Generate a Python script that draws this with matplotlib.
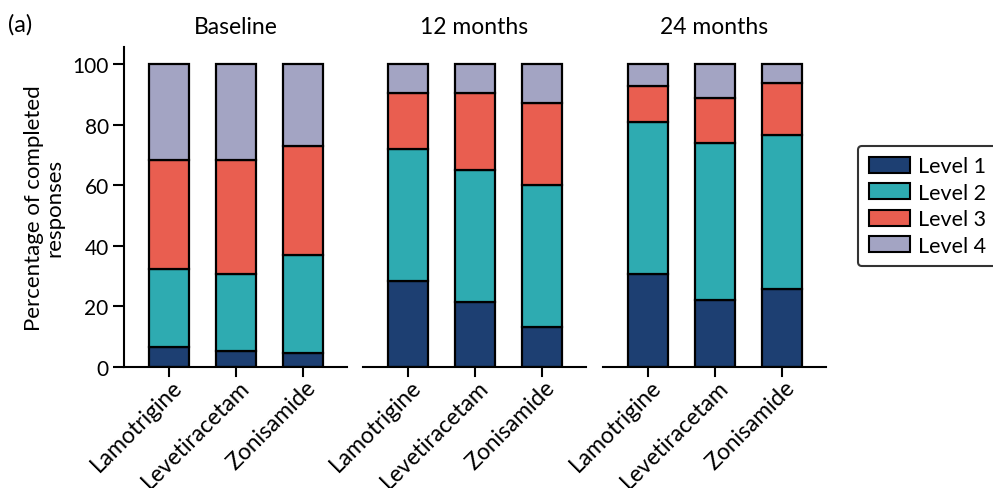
import matplotlib.pyplot as plt
import numpy as np
from matplotlib.patches import Patch

plt.rcParams['font.family'] = ['Lato', 'DejaVu Sans']

drugs = ["Lamotrigine", "Levetiracetam", "Zonisamide"]
timepoints = ["Baseline", "12 months", "24 months"]
levels = ["Level 1", "Level 2", "Level 3", "Level 4"]

# percentages per time point, one row per drug: level 1..4
baseline = [[6.6, 25.7, 36.0, 31.7],
            [5.3, 25.4, 37.6, 31.7],
            [4.6, 32.4, 35.9, 27.1]]
month12 = [[28.4, 43.5, 18.5, 9.6],
           [21.5, 43.5, 25.4, 9.6],
           [13.2, 46.8, 27.1, 12.9]]
month24 = [[30.7, 50.2, 11.8, 7.3],
           [22.1, 51.8, 14.9, 11.2],
           [25.7, 50.9, 17.1, 6.3]]

colors = ["#1d3f72", "#2eabb1", "#e95e50", "#a3a4c3"]

fig = plt.figure(figsize=(9.93, 4.89), dpi=100)
lefts = [124 / 993, 363 / 993, 603 / 993]
for i, (tp, data) in enumerate(zip(timepoints, [baseline, month12, month24])):
    ax = fig.add_axes([lefts[i], 1 - 368 / 489, 223 / 993, 320 / 489])
    data = np.array(data)
    x = np.arange(len(drugs))
    bottom = np.zeros(len(drugs))
    for j in range(len(levels)):
        ax.bar(x, data[:, j], 0.6, bottom=bottom, color=colors[j],
               edgecolor="black", linewidth=1.6, label=levels[j])
        bottom += data[:, j]
    ax.set_xlim(-0.67, 2.66)
    ax.set_ylim(0, 105.6)
    ax.set_xticks(x + 0.04)
    ax.set_xticklabels(drugs, rotation=45, ha="right", rotation_mode="anchor", fontsize=16.5)
    ax.tick_params(axis="x", length=0, pad=6.5)
    # draw the real ticks at bar centres
    for xi in x:
        ax.plot([xi, xi], [0, -0.028], transform=ax.get_xaxis_transform(),
                color="black", lw=1.5, clip_on=False)
    ax.tick_params(axis="y", length=8, width=1.5, labelsize=15, pad=3)
    ax.set_title(tp, fontsize=16.5, pad=10)
    for s in ["top", "right"]:
        ax.spines[s].set_visible(False)
    ax.spines["bottom"].set_linewidth(1.5)
    ax.spines["left"].set_linewidth(1.5)
    if i == 0:
        ax.set_yticks([0, 20, 40, 60, 80, 100])
        ax.set_ylabel("Percentage of completed\nresponses", fontsize=16, labelpad=6,
                      linespacing=1.0)
    else:
        ax.spines["left"].set_visible(False)
        ax.set_yticks([])

fig.text(8 / 993, 1 - 25 / 489, "(a)", fontsize=17, va="center")

handles = [Patch(facecolor=c, edgecolor="black", linewidth=1.5) for c in colors]
leg = fig.legend(handles, levels, loc="center left", bbox_to_anchor=(858 / 993, 1 - 207 / 489),
                 fontsize=15.5, frameon=True, fancybox=True, handlelength=1.9, handleheight=0.75,
                 handletextpad=0.4, labelspacing=0.3, borderpad=0.5, borderaxespad=0)
leg.get_frame().set_edgecolor("black")
leg.get_frame().set_linewidth(1.5)

plt.savefig("out.png", dpi=100)
